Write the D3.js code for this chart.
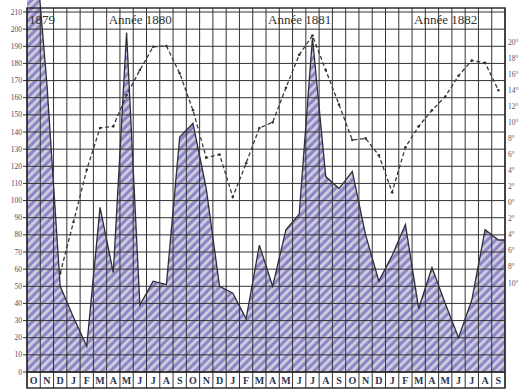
<!DOCTYPE html>
<html><head><meta charset="utf-8">
<script src="https://cdn.jsdelivr.net/npm/d3@7"></script>
<style>body{margin:0;background:#fff}svg{display:block}</style>
</head><body><svg id="c" width="519" height="391"></svg>
<script>
const months = ["O","N","D","J","F","M","A","M","J","J","A","S",
                "O","N","D","J","F","M","A","M","J","J","A","S",
                "O","N","D","J","F","M","A","M","J","J","A","S"];
// rainfall (left scale), Oct 1879 – Sep 1882
const rain = [260,168,50,32,15,96,58,198,39,53,51,137,
              145,107,50,46,31,74,50,83,92,195,114,107,
              117,80,53,68,86,37,61,40,20,42,83,77];
// temperature in °C (right scale)
const temp = [null,null,-8.8,-2.4,4.1,9.3,9.5,13.4,16.5,19.4,19.5,16.1,
              11.5,5.6,6.0,0.7,4.9,9.3,10.0,14.3,18.4,20.8,16.5,12.2,
              7.8,8.0,5.9,1.3,6.9,9.5,11.5,13.2,15.8,17.7,17.4,14.0];
const rainTicks = d3.range(0,211,10);
const tempTicks = [20,18,16,14,12,10,8,6,4,2,0,-2,-4,-6,-8,-10];
const yearLabels = ["1879","Année 1880","Année 1881","Année 1882"];
const yearStart = [0,6,18,29];

const svg = d3.select("#c");
const L=27, R=505, TOP=8, BASE=372, ROWB=388;
const x = d3.scaleBand().domain(d3.range(months.length)).range([L,R]).padding(0);
const bw = x.bandwidth();
const cx = i => x(i)+bw/2;
const yR = d3.scaleLinear().domain([0,210]).range([BASE,12]);
const yT = d3.scaleLinear().domain([-10,20]).range([283,42]);

const defs = svg.append("defs");
const pat = defs.append("pattern").attr("id","hatch").attr("width",6).attr("height",6)
  .attr("patternUnits","userSpaceOnUse").attr("patternTransform","rotate(45)");
pat.append("rect").attr("width",6).attr("height",6).attr("fill","#8b88c8");
pat.append("rect").attr("width",2.8).attr("height",6).attr("fill","#d3cedf");
defs.append("clipPath").attr("id","clip").append("rect")
  .attr("x",L).attr("y",0).attr("width",R-L).attr("height",BASE);

// rainfall area
const pts = [{x:x.range()[0],v:rain[0]}]
  .concat(rain.map((v,i)=>({x:cx(i),v})))
  .concat([{x:x.range()[1],v:rain[rain.length-1]}]);
const area = d3.area().x(d=>d.x).y0(yR(0)).y1(d=>yR(d.v));
const line = d3.line().x(d=>d.x).y(d=>yR(d.v));
const g = svg.append("g").attr("clip-path","url(#clip)");
g.append("path").datum(pts).attr("d",area).attr("fill","url(#hatch)");
g.append("path").datum(pts).attr("d",line).attr("fill","none")
  .attr("stroke","#2e2e3a").attr("stroke-width",1.3);

// grid
const grid = svg.append("g").attr("stroke","#333").attr("stroke-width",1);
rainTicks.forEach(t=>{
  grid.append("line").attr("x1",L-4).attr("x2",R).attr("y1",yR(t)).attr("y2",yR(t));
});
d3.range(months.length+1).forEach(i=>{
  const xx = i<months.length ? x(i) : R;
  grid.append("line").attr("x1",xx).attr("x2",xx).attr("y1",TOP).attr("y2",ROWB);
});
svg.append("rect").attr("x",L).attr("y",TOP).attr("width",R-L).attr("height",ROWB-TOP)
  .attr("fill","none").attr("stroke","#222").attr("stroke-width",1.4);
svg.append("line").attr("x1",L).attr("x2",R).attr("y1",BASE).attr("y2",BASE)
  .attr("stroke","#222").attr("stroke-width",1.4);

// month labels
svg.append("g").selectAll("text").data(months).join("text")
  .attr("x",(d,i)=>cx(i)).attr("y",(BASE+ROWB)/2+3.5)
  .attr("text-anchor","middle").attr("font-family","Liberation Serif, serif")
  .attr("font-weight","bold").attr("font-size",10).attr("fill","#2a3552").text(d=>d);

// temperature dashed line
const tp = temp.map((v,i)=>({i,v})).filter(d=>d.v!==null);
const tline = d3.line().x(d=>cx(d.i)).y(d=>yT(d.v));
svg.append("path").datum(tp).attr("d",tline).attr("fill","none")
  .attr("stroke","#3a3a3a").attr("stroke-width",1.3).attr("stroke-dasharray","4,2.5");
svg.append("g").selectAll("circle").data(tp).join("circle")
  .attr("cx",d=>cx(d.i)).attr("cy",d=>yT(d.v)).attr("r",1.3).attr("fill","#333");

// left axis labels
svg.append("g").selectAll("text").data(rainTicks).join("text")
  .attr("x",22).attr("y",d=>yR(d)+2.5).attr("text-anchor","end")
  .attr("font-family","Liberation Serif, serif").attr("font-size",7.5)
  .attr("fill","#4a4a70").text(d=>d);

// right axis labels
svg.append("g").selectAll("text").data(tempTicks).join("text")
  .attr("x",508).attr("y",d=>yT(d)+2.5).attr("text-anchor","start")
  .attr("font-family","Liberation Serif, serif").attr("font-size",7.5)
  .attr("fill","#555").text(d=>Math.abs(d)+"°");

// year labels
svg.append("g").selectAll("text").data(yearLabels).join("text")
  .attr("x",(d,i)=>x(yearStart[i])+2).attr("y",24)
  .attr("font-family","Liberation Serif, serif").attr("font-size",13)
  .attr("fill","#333").text(d=>d);
</script></body></html>
